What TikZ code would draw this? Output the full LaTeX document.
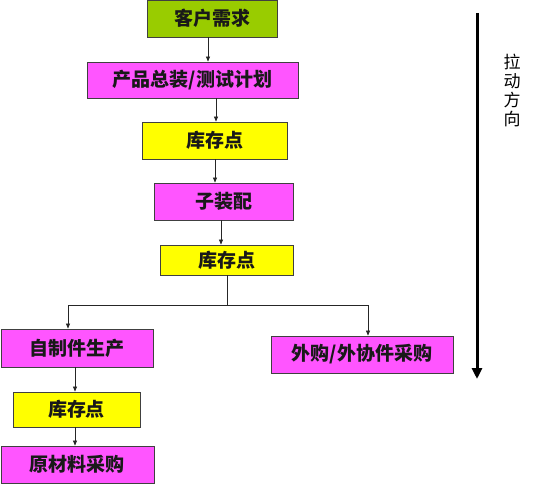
\documentclass[tikz,border=0pt]{standalone}
\usepackage{fontspec}
\setmainfont{Noto Sans CJK SC}
\usetikzlibrary{arrows.meta}
\definecolor{boxgreen}{HTML}{99CC00}
\definecolor{boxpink}{HTML}{FF55FF}
\definecolor{boxyellow}{HTML}{FFFF00}

\begin{document}
\begin{tikzpicture}[x=1pt,y=-1pt,>={Triangle[length=5pt,width=4pt]},font=\fontsize{19}{21}\selectfont\bfseries]
  \tikzstyle{stage}=[draw=black!75,line width=0.8pt,inner sep=0pt,minimum height=37pt,text=black!90]
  \tikzstyle{flow}=[->,black!85,line width=0.6pt]
  \useasboundingbox (0,0) rectangle (536,484);
  \node[stage,fill=boxgreen,minimum width=130pt] (need) at (212,18.5) {客户需求};
  \node[stage,fill=boxpink,minimum width=211pt,minimum height=36pt] (plan) at (192.5,80) {产品总装/测试计划};
  \node[stage,fill=boxyellow,minimum width=145pt] (stock1) at (214.5,140.5) {库存点};
  \node[stage,fill=boxpink,minimum width=139pt] (sub) at (223.5,201.5) {子装配};
  \node[stage,fill=boxyellow,minimum width=133pt,minimum height=30pt] (stock2) at (226.5,260) {库存点};
  \node[stage,fill=boxpink,minimum width=152pt,minimum height=38pt] (make) at (77,348) {自制件生产};
  \node[stage,fill=boxyellow,minimum width=127pt,minimum height=35pt] (stock3) at (76.5,409.5) {库存点};
  \node[stage,fill=boxpink,minimum width=153pt] (raw) at (77.5,464.5) {原材料采购};
  \node[stage,fill=boxpink,minimum width=182pt] (buy) at (362,354.5) {外购/外协件采购};
  \coordinate (split) at (227,305);
  \path[flow] ([xshift=-4pt]need.south) edge ([xshift=-4pt]need.south |- plan.north);
  \path[flow] ([xshift=23.5pt]plan.south) edge ([xshift=23.5pt]plan.south |- stock1.north);
  \path[flow] ([xshift=0.5pt]stock1.south) edge ([xshift=0.5pt]stock1.south |- sub.north);
  \path[flow] ([xshift=-2.5pt]sub.south) edge ([xshift=-2.5pt]sub.south |- stock2.north);
  \draw[flow,-] (stock2.south -| split) -- (split);
  \draw[flow] (split) -| ([xshift=-9pt]make.north);
  \draw[flow] (split) -| ([xshift=6pt]buy.north);
  \path[flow] ([xshift=-2pt]make.south) edge ([xshift=-2pt]make.south |- stock3.north);
  \path[flow] ([xshift=-1.5pt]stock3.south) edge ([xshift=-1.5pt]stock3.south |- raw.north);
  % pull direction
  \coordinate (pulltop) at (477,13);
  \coordinate (pullend) at (477,379);
  \draw[line width=3pt,-{Triangle[length=11pt,width=10pt]}] (pulltop) -- (pullend);
  \node[align=center,font=\fontsize{17}{19}\selectfont] (pull) at (512,90) {拉\\动\\方\\向};
\end{tikzpicture}
\end{document}
